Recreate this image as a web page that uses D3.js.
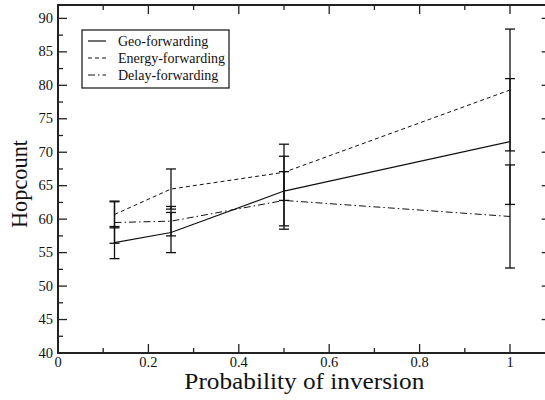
<!DOCTYPE html>
<html><head><meta charset="utf-8">
<script src="https://cdn.jsdelivr.net/npm/d3@7"></script>
<style>body{margin:0;background:#fff}svg{display:block}</style>
</head><body>
<svg id="c" width="545" height="400"></svg>
<script>
const xValues = [0.125, 0.25, 0.5, 1];
const seriesNames = ["Geo-forwarding", "Energy-forwarding", "Delay-forwarding"];
const geoMean = [56.5, 58.0, 64.2, 71.6];
const geoErr = [2.4, 3.0, 5.2, 9.4];
const energyMean = [60.7, 64.5, 67.0, 79.3];
const energyErr = [2.0, 3.0, 4.2, 9.1];
const delayMean = [59.5, 59.7, 62.8, 60.4];
const delayErr = [3.1, 2.2, 4.3, 7.7];
const xTicks = [0, 0.2, 0.4, 0.6, 0.8, 1];
const xTickLabels = ["0", "0.2", "0.4", "0.6", "0.8", "1"];
const yTicks = [40, 45, 50, 55, 60, 65, 70, 75, 80, 85, 90];
const xTitle = "Probability of inversion";
const yTitle = "Hopcount";

const series = [
  {name: seriesNames[0], mean: geoMean, err: geoErr, dash: null, w: 1.2},
  {name: seriesNames[1], mean: energyMean, err: energyErr, dash: "4,3", w: 1},
  {name: seriesNames[2], mean: delayMean, err: delayErr, dash: "7,3,1.5,3", w: 1}
];

const svg = d3.select("#c");
const L = 58, T = 5, B = 353;
const x = d3.scaleLinear().domain([0, 1.09]).range([L, L + 452 * 1.09]);
const y = d3.scaleLinear().domain([40, 92]).range([B, T]);
const R = x(1.09);
const font = "'Liberation Serif', 'Times New Roman', serif";
const axisCol = "#222";

const xMinor = d3.range(0.1, 1.1, 0.2);
const yMinor = d3.range(42.5, 92, 5);

const g = svg.append("g");
function tickLines(vals, len, orient) {
  vals.forEach(v => {
    if (orient === "bottom") g.append("line").attr("x1", x(v)).attr("x2", x(v)).attr("y1", B).attr("y2", B - len);
    if (orient === "top") g.append("line").attr("x1", x(v)).attr("x2", x(v)).attr("y1", T).attr("y2", T + len);
    if (orient === "left") g.append("line").attr("y1", y(v)).attr("y2", y(v)).attr("x1", L).attr("x2", L + len);
    if (orient === "right") g.append("line").attr("y1", y(v)).attr("y2", y(v)).attr("x1", R).attr("x2", R - len);
  });
}
tickLines(xTicks, 9, "bottom"); tickLines(xMinor, 5, "bottom");
tickLines(xTicks, 9, "top"); tickLines(xMinor, 5, "top");
tickLines(yTicks, 9, "left"); tickLines(yMinor, 5, "left");
tickLines(yTicks, 9, "right"); tickLines(yMinor, 5, "right");
g.selectAll("line").attr("stroke", axisCol).attr("stroke-width", 1.3);

svg.append("rect").attr("x", L).attr("y", T).attr("width", R - L).attr("height", B - T)
  .attr("fill", "none").attr("stroke", axisCol).attr("stroke-width", 2);

svg.append("g").selectAll("text").data(xTicks).join("text")
  .attr("x", d => x(d)).attr("y", 367).attr("text-anchor", "middle")
  .attr("font-family", font).attr("font-size", 14.5).attr("fill", "#111")
  .text((d, i) => xTickLabels[i]);
svg.append("g").selectAll("text").data(yTicks).join("text")
  .attr("x", 53).attr("y", d => y(d) + 4.5).attr("text-anchor", "end")
  .attr("font-family", font).attr("font-size", 14.5).attr("fill", "#111")
  .text(d => d);

svg.append("text").attr("x", (L + R) / 2).attr("y", 389).attr("text-anchor", "middle")
  .attr("font-family", font).attr("font-size", 23).attr("fill", "#111")
  .attr("textLength", 240).attr("lengthAdjust", "spacingAndGlyphs").text(xTitle);
svg.append("text").attr("transform", "translate(27,184) rotate(-90)").attr("text-anchor", "middle")
  .attr("font-family", font).attr("font-size", 23).attr("fill", "#111")
  .attr("textLength", 88).attr("lengthAdjust", "spacingAndGlyphs").text(yTitle);

series.forEach(s => {
  const eg = svg.append("g").attr("stroke", "#111").attr("stroke-width", 1.3);
  xValues.forEach((xv, i) => {
    const lo = s.mean[i] - s.err[i], hi = s.mean[i] + s.err[i];
    eg.append("line").attr("x1", x(xv)).attr("x2", x(xv)).attr("y1", y(lo)).attr("y2", y(hi));
    [lo, hi].forEach(v => eg.append("line").attr("x1", x(xv) - 5).attr("x2", x(xv) + 5).attr("y1", y(v)).attr("y2", y(v)));
  });
});

const line = d3.line().x((d, i) => x(xValues[i])).y(d => y(d));
series.forEach(s => {
  svg.append("path").attr("d", line(s.mean)).attr("fill", "none").attr("stroke", "#111")
    .attr("stroke-width", s.w).attr("stroke-dasharray", s.dash);
});

const lg = svg.append("g");
lg.append("rect").attr("x", 82).attr("y", 30).attr("width", 147).attr("height", 58)
  .attr("fill", "#fff").attr("stroke", "#222").attr("stroke-width", 1.3);
series.forEach((s, i) => {
  const yy = 41 + i * 17;
  lg.append("line").attr("x1", 88).attr("x2", 106).attr("y1", yy).attr("y2", yy)
    .attr("stroke", "#111").attr("stroke-width", s.w).attr("stroke-dasharray", s.dash);
  lg.append("text").attr("x", 118).attr("y", yy + 4.5).attr("font-family", font)
    .attr("font-size", 14).attr("fill", "#111").text(s.name);
});
</script>
</body></html>
